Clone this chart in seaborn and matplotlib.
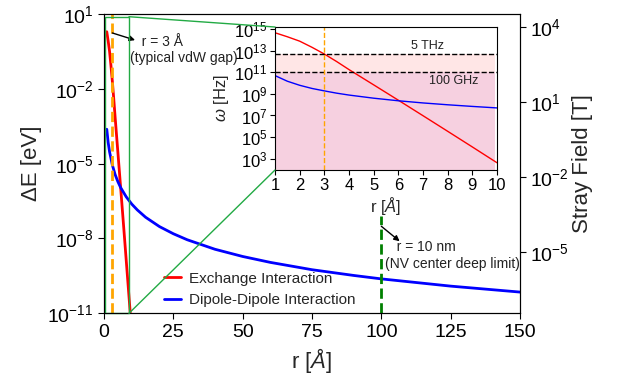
import matplotlib
matplotlib.use('Agg')
import matplotlib.pyplot as plt
import seaborn as sns
from matplotlib.ticker import NullLocator
from matplotlib.patches import ConnectionPatch

# main panel: energy vs distance (r in Angstrom, energy in eV)
r_exch = [1, 1.5, 2, 2.5, 3, 3.5, 4, 5, 6, 7, 8, 9, 10]
exch_ev = [1.95, 0.83, 0.32, 0.087, 0.021, 4.2e-3, 7.6e-4, 2.9e-5, 1.1e-6,
           4.0e-8, 1.4e-9, 4.9e-11, 1.7e-12]
r_dip = [1, 1.5, 2, 3, 4, 5, 6, 8, 10, 12, 15, 20, 25, 30, 40, 50, 60, 75,
         90, 100, 125, 150]
dip_ev = [2.4e-4, 7.1e-5, 3.0e-5, 8.9e-6, 3.7e-6, 1.9e-6, 1.1e-6, 4.7e-7,
          2.4e-7, 1.4e-7, 7.1e-8, 3.0e-8, 1.55e-8, 8.9e-9, 3.7e-9, 1.9e-9,
          1.1e-9, 5.6e-10, 3.3e-10, 2.4e-10, 1.23e-10, 7.1e-11]

# inset: frequency vs distance (Hz)
r_inset = [1, 1.5, 2, 2.5, 3, 3.5, 4, 5, 6, 7, 8, 9, 10]
exch_hz = [4.7e14, 2.0e14, 7.8e13, 2.1e13, 5.0e12, 1.0e12, 1.8e11, 6.9e9,
           2.6e8, 9.5e6, 3.4e5, 1.2e4, 4.1e2]
dip_hz = [5.0e10, 1.5e10, 6.3e9, 3.2e9, 1.9e9, 1.17e9, 7.8e8, 4.0e8, 2.3e8,
          1.45e8, 9.8e7, 6.9e7, 5.0e7]

thz_limit = 5e12
ghz_limit = 1e11
vdw_gap = 3
nv_limit = 100

sns.set_style('ticks')
plt.rcParams['font.family'] = ['Liberation Sans', 'DejaVu Sans']
plt.rcParams['mathtext.fontset'] = 'custom'
plt.rcParams['mathtext.rm'] = 'Liberation Sans'
plt.rcParams['mathtext.it'] = 'Liberation Sans:italic'
plt.rcParams['mathtext.bf'] = 'Liberation Sans:bold'
plt.rcParams['axes.edgecolor'] = 'black'
plt.rcParams['xtick.color'] = 'black'
plt.rcParams['ytick.color'] = 'black'

fig = plt.figure(figsize=(6.25, 3.8), dpi=100)
ax = fig.add_axes([0.1664, 0.1755, 0.6656, 0.7876])

sns.lineplot(x=r_exch, y=exch_ev, ax=ax, color='red', linewidth=2,
             label='Exchange Interaction')
sns.lineplot(x=r_dip, y=dip_ev, ax=ax, color='blue', linewidth=2,
             label='Dipole-Dipole Interaction')
ax.axvline(vdw_gap, color='orange', linestyle='--', linewidth=2)
ax.vlines(nv_limit, 1e-11, 10 ** -7.1, color='green', linestyle='--', linewidth=2)

ax.set_yscale('log')
ax.set_xlim(0, 150)
ax.set_ylim(1e-11, 10)
ax.set_yticks([1e1, 1e-2, 1e-5, 1e-8, 1e-11])
ax.yaxis.set_minor_locator(NullLocator())
ax.set_xticks([0, 25, 50, 75, 100, 125, 150])
ax.tick_params(labelsize=14, length=4)
ax.set_xlabel(r'r [$\AA$]', fontsize=16)
ax.set_ylabel('ΔE [eV]', fontsize=16)

ax.legend(loc='lower left', bbox_to_anchor=(0.13, 0.0), borderaxespad=0,
          frameon=False, fontsize=11, handlelength=1.1, handletextpad=0.5)

ax.annotate('', xy=(11.2, 0.9), xytext=(vdw_gap, 1.74),
            arrowprops=dict(arrowstyle='-|>', color='black', lw=1,
                            mutation_scale=8, shrinkA=0, shrinkB=0))
ax.text(9.4, 10 ** -0.44, '   r = 3 Å\n(typical vdW gap)', fontsize=10,
        ha='left', va='center', color='#222222')
ax.annotate('', xy=(106.6, 10 ** -8.11), xytext=(nv_limit, 10 ** -7.51),
            arrowprops=dict(arrowstyle='-|>', color='black', lw=1,
                            mutation_scale=8, shrinkA=0, shrinkB=0))
ax.text(101.4, 10 ** -8.68, '   r = 10 nm\n(NV center deep limit)', fontsize=10,
        ha='left', va='center', color='#222222')

# right axis: stray field
ax2 = ax.twinx()
ax2.set_yscale('log')
ax2.set_ylim(3.4e-8, 3.4e4)
ax2.set_yticks([1e4, 1e1, 1e-2, 1e-5])
ax2.yaxis.set_minor_locator(NullLocator())
ax2.tick_params(labelsize=14, length=4)
ax2.set_ylabel('Stray Field [T]', fontsize=16)
ax2.yaxis.set_label_coords(1.125, 0.5)

# inset
axins = fig.add_axes([0.44, 0.5526, 0.3552, 0.3763])
axins.axhspan(ghz_limit, thz_limit, xmax=0.99, color='#ffe6e6', lw=0, zorder=0)
axins.axhspan(1e1, ghz_limit, xmax=0.99, color='#f6d0e0', lw=0, zorder=0)
sns.lineplot(x=r_inset, y=exch_hz, ax=axins, color='red', linewidth=1, legend=False)
sns.lineplot(x=r_inset, y=dip_hz, ax=axins, color='blue', linewidth=1, legend=False)
axins.axhline(thz_limit, color='black', linestyle='--', linewidth=1)
axins.axhline(ghz_limit, color='black', linestyle='--', linewidth=1)
axins.axvline(vdw_gap, color='orange', linestyle='--', linewidth=1)
axins.text(7.2, 10 ** 13.45, '5 THz', ha='center', va='center', fontsize=9, color='#222222')
axins.text(8.24, 10 ** 10.22, '100 GHz', ha='center', va='center', fontsize=9, color='#222222')
axins.set_yscale('log')
axins.set_xlim(1, 10)
axins.set_ylim(8.7e1, 1.6e15)
axins.set_xticks(range(1, 11))
axins.set_yticks([1e3, 1e5, 1e7, 1e9, 1e11, 1e13, 1e15])
axins.yaxis.set_minor_locator(NullLocator())
axins.tick_params(labelsize=12, length=3.5, pad=2)
axins.set_xlabel(r'r [$\AA$]', fontsize=12, labelpad=2)
axins.set_ylabel(r'$\omega$ [Hz]', fontsize=12, labelpad=2)

# zoom box and connector lines to the inset's left corners
zoom_color = '#22aa44'
ax.indicate_inset([0.4, 1e-11, 8.6, 7.8], edgecolor=zoom_color, alpha=1, linewidth=1)
for xy_main, xy_ins in [((9.0, 7.8), (0, 1)), ((9.0, 1e-11), (0, 0))]:
    con = ConnectionPatch(xyA=xy_main, coordsA=ax.transData, xyB=xy_ins,
                          coordsB=axins.transAxes, color=zoom_color, linewidth=1)
    fig.add_artist(con)

fig.savefig('out.png', dpi=100)
